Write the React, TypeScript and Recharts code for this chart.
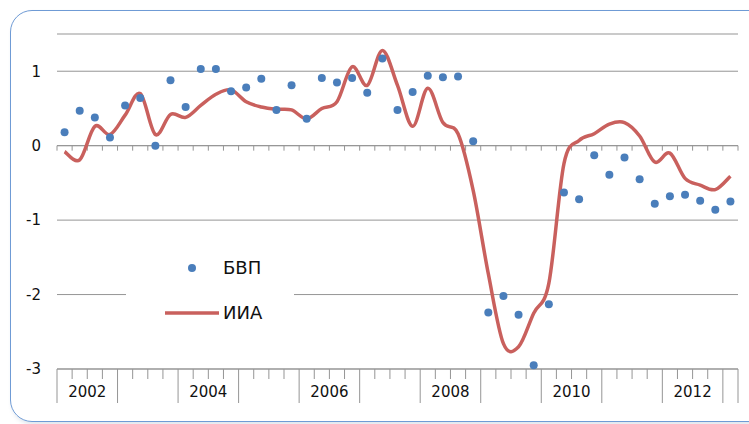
import React from 'react';
import { ComposedChart, Line, XAxis, YAxis, CartesianGrid, ReferenceLine } from 'recharts';

const YEARS = ['2002', '2003', '2004', '2005', '2006', '2007', '2008', '2009', '2010', '2011', '2012', '2013'];
const QUARTERS = YEARS.flatMap((y) => ['Q1', 'Q2', 'Q3', 'Q4'].map((q) => `${y} ${q}`)).slice(0, 45);

// БВП (dots)
const BVP = [
  0.18, 0.47, 0.38, 0.11, 0.54, 0.64, 0.0, 0.88, 0.52, 1.03, 1.03, 0.73, 0.78, 0.9, 0.48,
  0.81, 0.36, 0.91, 0.85, 0.91, 0.71, 1.17, 0.48, 0.72, 0.94, 0.92, 0.93, 0.06, -2.24, -2.02,
  -2.27, -2.95, -2.13, -0.63, -0.72, -0.13, -0.39, -0.16, -0.45, -0.78, -0.68, -0.66, -0.74, -0.86, -0.75,
];

// ИИА (smoothed line)
const IIA = [
  -0.08, -0.19, 0.26, 0.15, 0.41, 0.7, 0.15, 0.42, 0.38, 0.54, 0.69, 0.75, 0.59, 0.52, 0.49,
  0.48, 0.36, 0.5, 0.59, 1.06, 0.81, 1.28, 0.81, 0.26, 0.77, 0.31, 0.16, -0.6, -1.72, -2.66,
  -2.7, -2.25, -1.85, -0.24, 0.07, 0.16, 0.29, 0.31, 0.13, -0.22, -0.1, -0.44, -0.53, -0.59, -0.41,
];

const Y_TICKS = [-3, -2, -1, 0, 1];

const data = QUARTERS.map((q, i) => ({ q, bvp: BVP[i], iia: IIA[i] }));

const W = 749;
const H = 424;
const MARGIN = { top: 34, right: 11, bottom: 0, left: 0 };
const Y_AXIS_W = 57;
const X_AXIS_H = 55;
const BAND = (W - MARGIN.left - MARGIN.right - Y_AXIS_W) / QUARTERS.length;

const GRID = '#959595';
const FONT = '"DejaVu Sans", Verdana, sans-serif';

// Excel-like smoothed line (Catmull-Rom through the points)
const excelSmooth = (context: any) => {
  let pts: [number, number][] = [];
  return {
    areaStart() {},
    areaEnd() {},
    lineStart() {
      pts = [];
    },
    lineEnd() {
      if (!pts.length) return;
      context.moveTo(pts[0][0], pts[0][1]);
      for (let i = 0; i < pts.length - 1; i++) {
        const p0 = pts[Math.max(i - 1, 0)];
        const p1 = pts[i];
        const p2 = pts[i + 1];
        const p3 = pts[Math.min(i + 2, pts.length - 1)];
        context.bezierCurveTo(
          p1[0] + (p2[0] - p0[0]) / 6,
          p1[1] + (p2[1] - p0[1]) / 6,
          p2[0] - (p3[0] - p1[0]) / 6,
          p2[1] - (p3[1] - p1[1]) / 6,
          p2[0],
          p2[1]
        );
      }
    },
    point(x: number, y: number) {
      pts.push([x, y]);
    },
  };
};

const QuarterTick = (props: any) => {
  const { x, y, index } = props;
  const left = x - BAND / 2;
  const yearStart = index % 4 === 0;
  const year = YEARS[Math.floor(index / 4)];
  return (
    <g>
      <line x1={left} x2={left} y1={y} y2={y + (yearStart ? 34 : 10)} stroke={GRID} />
      {index === QUARTERS.length - 1 && (
        <line x1={x + BAND / 2} x2={x + BAND / 2} y1={y} y2={y + 34} stroke={GRID} />
      )}
      {index % 8 === 0 && index + 4 <= QUARTERS.length && (
        <text x={left + 2 * BAND} y={y + 23} dy="0.355em" textAnchor="middle" fontSize={15} fontFamily={FONT} fill="#111">
          {year}
        </text>
      )}
    </g>
  );
};

const ZeroAxis = (props: any) => {
  const { x1, y1, x2 } = props;
  if (x1 == null) return null;
  const step = (x2 - x1) / QUARTERS.length;
  return (
    <g>
      <line x1={x1} x2={x2} y1={y1} y2={y1} stroke={GRID} />
      {Array.from({ length: QUARTERS.length + 1 }, (_, i) => (
        <line key={i} x1={x1 + i * step} x2={x1 + i * step} y1={y1} y2={y1 + 5} stroke={GRID} />
      ))}
    </g>
  );
};

export default function App() {
  return (
    <div style={{ position: 'fixed', left: 0, top: 0, width: W, height: H, overflow: 'hidden', background: '#fff' }}>
      <div
        style={{
          position: 'absolute',
          left: 10,
          top: 10,
          width: 760,
          height: 410,
          border: '1.5px solid #6f9bd5',
          borderRadius: 22,
          boxShadow: '2px 3px 4px rgba(80,110,150,0.18)',
        }}
      />
      <div style={{ position: 'absolute', left: 0, top: 0 }}>
        <ComposedChart width={W} height={H} data={data} margin={MARGIN}>
          <CartesianGrid vertical={false} stroke={GRID} />
          <XAxis
            dataKey="q"
            type="category"
            scale="band"
            interval={0}
            height={X_AXIS_H}
            axisLine={{ stroke: GRID }}
            tickLine={false}
            tickSize={0}
            tickMargin={0}
            tick={<QuarterTick />}
          />
          <YAxis
            domain={[-3, 1.5]}
            ticks={Y_TICKS}
            width={Y_AXIS_W}
            axisLine={false}
            tickLine={false}
            tickMargin={10}
            tick={{ fontSize: 15, fontFamily: FONT, fill: '#111' }}
          />
          <ReferenceLine y={0} shape={<ZeroAxis />} />
          <Line
            dataKey="iia"
            type={excelSmooth as any}
            stroke="#c9605d"
            strokeWidth={3.5}
            dot={false}
            isAnimationActive={false}
          />
          <Line
            dataKey="bvp"
            stroke="none"
            dot={{ r: 4, fill: '#4a7ebb', stroke: 'none' }}
            activeDot={false}
            isAnimationActive={false}
          />
        </ComposedChart>
      </div>
      <div
        style={{
          position: 'absolute',
          left: 126,
          top: 246,
          width: 168,
          height: 90,
          background: '#fff',
          fontFamily: FONT,
          fontSize: 18,
          color: '#111',
        }}
      >
        <svg width={168} height={90} style={{ position: 'absolute', left: 0, top: 0 }}>
          <circle cx={66} cy={22} r={4} fill="#4a7ebb" />
          <line x1={39} x2={93} y1={67} y2={67} stroke="#c9605d" strokeWidth={3.5} />
        </svg>
        <div style={{ position: 'absolute', left: 97, top: 22, transform: 'translateY(-50%)', lineHeight: 1 }}>БВП</div>
        <div style={{ position: 'absolute', left: 97, top: 67, transform: 'translateY(-50%)', lineHeight: 1 }}>ИИА</div>
      </div>
    </div>
  );
}
